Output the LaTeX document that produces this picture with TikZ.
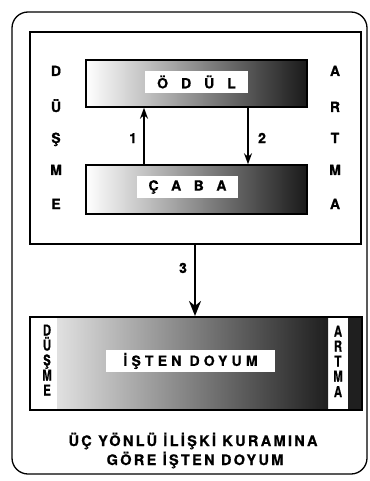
\documentclass[tikz,border=0pt]{standalone}
\usepackage{fontspec}
\setmainfont{TeX Gyre Heros}[BoldFeatures={FakeBold=0.8}]
\usetikzlibrary{arrows.meta}
\begin{document}
\begin{tikzpicture}[x=1pt,y=-1pt,
  frame/.style={draw, line width=1.3pt, rounded corners=16pt},
  box/.style={draw, line width=2pt},
  bar/.style={draw, line width=1.5pt, left color=white, middle color=black!45, right color=black!90},
  lab/.style={fill=white, inner sep=0pt, font=\bfseries\fontsize{14}{14}\selectfont},
  side/.style={font=\bfseries\fontsize{14}{14}\selectfont, anchor=base, inner sep=0pt},
  vside/.style={font=\bfseries\fontsize{15}{15}\selectfont, anchor=base, inner sep=0pt},
  captxt/.style={font=\bfseries\fontsize{14.5}{14.5}\selectfont\addfontfeature{LetterSpace=16}, anchor=base, inner sep=0pt},
  arr/.style={line width=1.4pt, -{Stealth[length=11pt,width=8pt]}},
  bigarr/.style={line width=2.5pt, -{Stealth[length=15pt,width=12pt]}}]
\useasboundingbox (0,0) rectangle (369,481);

% outer frame and top box
\node[frame, minimum width=355pt, minimum height=462pt] (frame) at (189.5,243) {};
\node[box, minimum width=331pt, minimum height=212pt] (topbox) at (195.5,138) {};

% bars
\node[bar, minimum width=221pt, minimum height=47pt] (odulbar) at (196.5,83.5) {};
\node[bar, minimum width=221pt, minimum height=49pt] (cababar) at (196.5,189.5) {};
\node[lab, minimum width=103pt, minimum height=22pt] (odul) at (196.5,82) {Ö\hspace{13pt}D\hspace{13pt}Ü\hspace{13pt}L};
\node[lab, minimum width=101pt, minimum height=22pt] (caba) at (187.5,187) {Ç\hspace{12.5pt}A\hspace{12.5pt}B\hspace{12.5pt}A};

% side letters
\node[side] (l1) at (56,76) {D};
\node[side] (l2) at (56,112) {Ü};
\node[side] (l3) at (56,143) {Ş};
\node[side] (l4) at (56,175) {M};
\node[side] (l5) at (56,209) {E};
\node[side] (r1) at (335,76) {A};
\node[side] (r2) at (335,112) {R};
\node[side] (r3) at (335,143) {T};
\node[side] (r4) at (335,175) {M};
\node[side] (r5) at (335,209) {A};

% arrows 1 and 2
\coordinate (a1) at (144,0);
\coordinate (a2) at (248,0);
\coordinate (a3) at (195,0);
\draw[arr] (a1 |- cababar.north) -- (a1 |- odulbar.south);
\draw[arr] (a2 |- odulbar.south) -- (a2 |- cababar.north);
\node[side] (n1) at (133,143) {1};
\node[side] (n2) at (262,143) {2};

% bottom bar
\shade[left color=black!12, middle color=black!50, right color=black!88] (57,317) rectangle (328,410);
\fill[black!88] (348,317) rectangle (362,410);
\node[box, minimum width=332pt, minimum height=93pt] (isten) at (196,363.5) {};
\node[lab, minimum width=169pt, minimum height=22pt, font=\bfseries\fontsize{14}{14}\selectfont\addfontfeature{LetterSpace=30}] (istenlab) at (190.5,361) {İŞTEN DOYUM};

\node[vside] (bl1) at (47,335.5) {\scalebox{0.75}[1]{D}};
\node[vside] (bl2) at (47,350.5) {\scalebox{0.75}[1]{Ü}};
\node[vside] (bl3) at (47,365.5) {\scalebox{0.75}[1]{Ş}};
\node[vside] (bl4) at (47,380.5) {\scalebox{0.75}[1]{M}};
\node[vside] (bl5) at (47,395.5) {\scalebox{0.75}[1]{E}};
\node[vside] (br1) at (338,336.5) {\scalebox{0.75}[1]{A}};
\node[vside] (br2) at (338,351.5) {\scalebox{0.75}[1]{R}};
\node[vside] (br3) at (338,366.5) {\scalebox{0.75}[1]{T}};
\node[vside] (br4) at (338,381.5) {\scalebox{0.75}[1]{M}};
\node[vside] (br5) at (338,397) {\scalebox{0.75}[1]{A}};

% arrow 3
\draw[bigarr] (a3 |- topbox.south) -- (a3 |- isten.north);
\node[side] (n3) at (183,273) {3};

% caption
\node[captxt] (cap1) at (193,446) {ÜÇ YÖNLÜ İLİŞKİ KURAMINA};
\node[captxt] (cap2) at (195,465) {GÖRE İŞTEN DOYUM};
\end{tikzpicture}
\end{document}
